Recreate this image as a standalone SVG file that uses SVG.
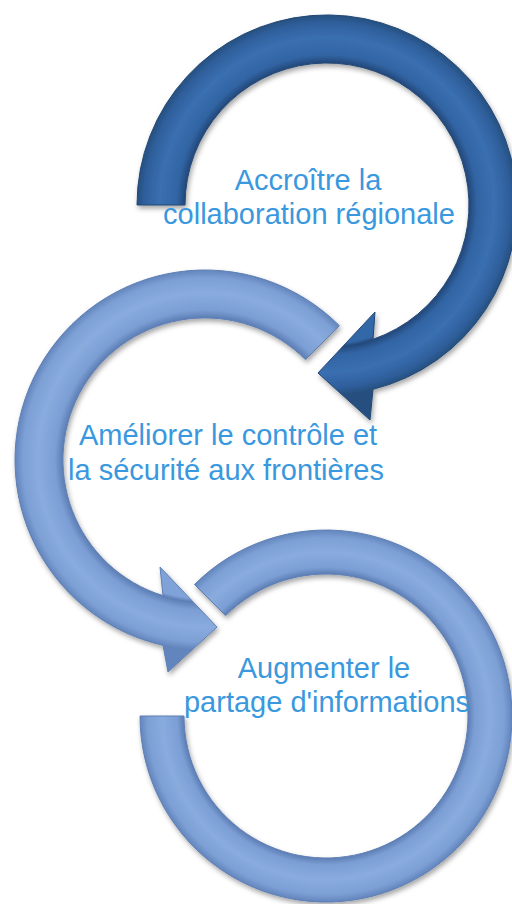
<svg xmlns="http://www.w3.org/2000/svg" width="512" height="904" viewBox="0 0 512 904">
  <defs>
    <radialGradient id="gDark" gradientUnits="userSpaceOnUse" cx="327" cy="205" r="190">
      <stop offset="0" stop-color="#3368a8"/>
      <stop offset="0.73" stop-color="#3368a8"/>
      <stop offset="0.75" stop-color="#24497c"/>
      <stop offset="0.79" stop-color="#3164a3"/>
      <stop offset="0.88" stop-color="#3a6fb1"/>
      <stop offset="0.96" stop-color="#2f5f9c"/>
      <stop offset="1" stop-color="#26507f"/>
    </radialGradient>
    <radialGradient id="gLightMid" gradientUnits="userSpaceOnUse" cx="205" cy="460" r="190">
      <stop offset="0" stop-color="#7fa2d8"/>
      <stop offset="0.73" stop-color="#7fa2d8"/>
      <stop offset="0.75" stop-color="#5d7fb6"/>
      <stop offset="0.79" stop-color="#7b9ed5"/>
      <stop offset="0.88" stop-color="#89abde"/>
      <stop offset="0.96" stop-color="#7c9fd5"/>
      <stop offset="1" stop-color="#6385bd"/>
    </radialGradient>
    <radialGradient id="gLightBot" gradientUnits="userSpaceOnUse" cx="326" cy="716" r="186">
      <stop offset="0" stop-color="#7fa2d8"/>
      <stop offset="0.745" stop-color="#7fa2d8"/>
      <stop offset="0.765" stop-color="#5d7fb6"/>
      <stop offset="0.8" stop-color="#7b9ed5"/>
      <stop offset="0.88" stop-color="#89abde"/>
      <stop offset="0.96" stop-color="#7c9fd5"/>
      <stop offset="1" stop-color="#6385bd"/>
    </radialGradient>
    <filter id="shadow" x="-20%" y="-20%" width="140%" height="140%">
      <feDropShadow dx="1.5" dy="3" stdDeviation="2.5" flood-color="#000" flood-opacity="0.35"/>
    </filter>
  </defs>
  <style>
    .arrow { filter: url(#shadow); stroke-width: 1; stroke-linejoin: round; }
    .dark { fill: url(#gDark); stroke: #234774; }
    .lightMid { fill: url(#gLightMid); stroke: #5e7fb3; }
    .lightBot { fill: url(#gLightBot); stroke: #5e7fb3; }
    .label { font-family: "Liberation Sans", Arial, sans-serif; font-size: 29px; fill: #3a98de; text-anchor: middle; }
  </style>
  <rect width="512" height="904" fill="#ffffff"/>
  <g id="connectors">
    <path id="arrow-1" class="arrow dark" d="M 137,205 A 190 190 0 1 1 373,389.3 L 370,420 L 318,373 L 375,312 L 373,339.3 A 142 142 0 1 0 185,205 Z"/>
    <path id="arrow-2" class="arrow lightMid" d="M 339.35,325.65 A 190 190 0 1 0 163,645.3 L 168,672 L 217,627 L 160,567 L 163,595.6 A 142 142 0 1 1 305.41,359.59 Z"/>
    <path id="arrow-3" class="arrow lightBot" d="M 194.5,584.5 A 186 186 0 1 1 140,716 L 184,716 A 142 142 0 1 0 225.6,615.6 Z"/>
  </g>
  <g id="node-1">
    <text class="label" x="308" y="190">Accroître la</text>
    <text class="label" x="309" y="224">collaboration régionale</text>
  </g>
  <g id="node-2">
    <text class="label" x="228" y="445">Améliorer le contrôle et</text>
    <text class="label" x="226" y="480">la sécurité aux frontières</text>
  </g>
  <g id="node-3">
    <text class="label" x="324" y="678">Augmenter le</text>
    <text class="label" x="327" y="712">partage d'informations</text>
  </g>
</svg>
